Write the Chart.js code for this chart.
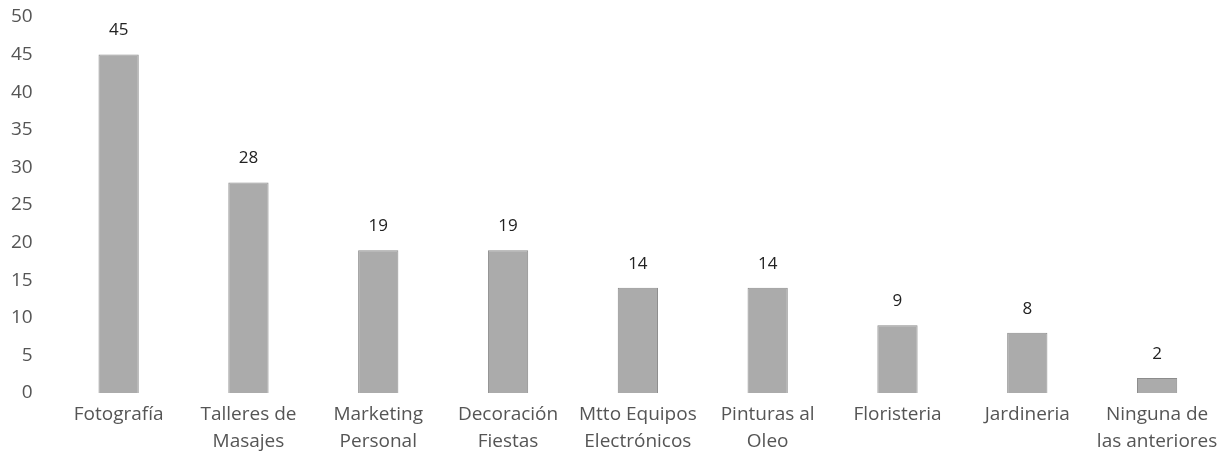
<!DOCTYPE html>
<html>
<head>
<meta charset="utf-8">
<script src="https://cdn.jsdelivr.net/npm/chart.js@4/dist/chart.umd.min.js"></script>
<style>
  html, body { margin: 0; padding: 0; background: #fff; }
  #wrap { width: 1231px; height: 461px; }
</style>
</head>
<body>
<div id="wrap"><canvas id="chart" width="1231" height="461"></canvas></div>
<script>
  // Course interest survey: responses per option
  var categories = [
    "Fotografía",
    ["Talleres de", "Masajes"],
    ["Marketing", "Personal"],
    ["Decoración", "Fiestas"],
    ["Mtto Equipos", "Electrónicos"],
    ["Pinturas al", "Oleo"],
    "Floristeria",
    "Jardineria",
    ["Ninguna de", "las anteriores"]
  ];
  var responses = [45, 28, 19, 19, 14, 14, 9, 8, 2];
  var yTicks = [0, 5, 10, 15, 20, 25, 30, 35, 40, 45, 50];

  var textColor = "#555";
  var fontFamily = "'Open Sans', 'Noto Sans', sans-serif";

  // prints each bar's value above it
  var valueLabels = {
    id: "valueLabels",
    afterDatasetsDraw: function(chart) {
      var ctx = chart.ctx;
      var meta = chart.getDatasetMeta(0);
      ctx.save();
      ctx.font = "17px " + fontFamily;
      ctx.fillStyle = "#222";
      ctx.textAlign = "center";
      ctx.textBaseline = "middle";
      meta.data.forEach(function(bar, i) {
        ctx.fillText(String(responses[i]), bar.x, bar.y - 24);
      });
      ctx.restore();
    }
  };

  new Chart(document.getElementById("chart"), {
    type: "bar",
    data: {
      labels: categories,
      datasets: [{
        data: responses,
        backgroundColor: "#ababab",
        borderColor: "#8c8c8c",
        borderWidth: 1,
        barPercentage: 0.62,
        categoryPercentage: 0.5
      }]
    },
    options: {
      responsive: false,
      animation: false,
      layout: { padding: { top: 17, right: 9, bottom: -2, left: -10 } },
      plugins: {
        legend: { display: false },
        tooltip: { enabled: false }
      },
      scales: {
        x: {
          grid: { display: false, drawTicks: false },
          border: { display: false },
          ticks: {
            color: textColor,
            font: { family: fontFamily, size: 19, lineHeight: 1.42 },
            maxRotation: 0,
            autoSkip: false,
            padding: 8
          }
        },
        y: {
          min: 0,
          max: 50,
          afterBuildTicks: function(axis) {
            axis.ticks = yTicks.map(function(v) { return { value: v }; });
          },
          // tick padding would otherwise also push the plot top down
          afterFit: function(axis) {
            axis.paddingTop = 0;
            axis.paddingBottom = 0;
          },
          grid: { display: false, drawTicks: false },
          border: { display: false },
          ticks: {
            color: textColor,
            font: { family: fontFamily, size: 19 },
            padding: 21
          }
        }
      }
    },
    plugins: [valueLabels]
  });
</script>
</body>
</html>
